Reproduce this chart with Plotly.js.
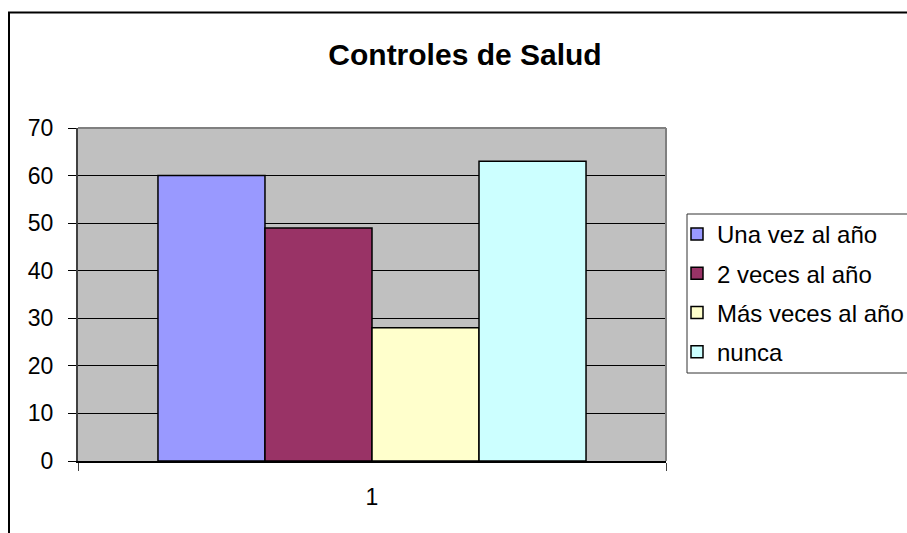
<!DOCTYPE html>
<html>
<head>
<meta charset="utf-8">
<script src="https://cdn.plot.ly/plotly-3.0.1.min.js"></script>
<style>html,body{margin:0;padding:0;background:#fff;}#chart{width:907px;height:533px;}</style>
</head>
<body>
<div id="chart"></div>
<script>
// Data
const categories = ['1'];
const seriesNames = ['Una vez al año', '2 veces al año', 'Más veces al año', 'nunca'];
const seriesValues = [60, 49, 28, 63];
const seriesColors = ['#9999FF', '#993366', '#FFFFCC', '#CCFFFF'];
const yTickValues = [0, 10, 20, 30, 40, 50, 60, 70];
const chartTitle = 'Controles de Salud';

const FONT = 'Liberation Sans, Arial, Helvetica, sans-serif';

const traces = seriesNames.map((name, i) => ({
  type: 'bar',
  name: name,
  x: categories,
  y: [seriesValues[i]],
  legendgroup: 'g' + i,
  marker: { color: seriesColors[i], line: { color: '#000000', width: 1.5 } }
}));

const W = 907, H = 533;
const L = 78, R = 666, T = 128, B = 461;
const px = v => (v - L) / (R - L);
const py = v => (B - v) / (B - T);

const layout = {
  width: W, height: H,
  margin: { l: L, r: W - R, t: T, b: H - B, pad: 0, autoexpand: false },
  paper_bgcolor: '#FFFFFF',
  plot_bgcolor: '#C0C0C0',
  font: { family: FONT, size: 23, color: '#000000' },
  title: {
    text: '<b>' + chartTitle + '</b>',
    font: { family: FONT, size: 30, color: '#000000' },
    xref: 'container', yref: 'container',
    x: 465 / W, xanchor: 'center',
    y: 1 - 54 / H, yanchor: 'middle'
  },
  barmode: 'group',
  bargap: 0.272,
  bargroupgap: 0,
  xaxis: {
    type: 'category',
    range: [-0.5, 0.5],
    showgrid: false,
    zeroline: false,
    showline: true, linecolor: '#000000', linewidth: 2,
    ticks: 'outside', tickson: 'boundaries', ticklen: 8, tickcolor: '#404040', tickwidth: 1,
    ticklabelstandoff: 14,
    tickfont: { family: FONT, size: 23, color: '#000000' },
    fixedrange: true
  },
  yaxis: {
    range: [0, 70],
    tickvals: yTickValues,
    ticktext: yTickValues.map(String),
    showgrid: true, gridcolor: '#000000', gridwidth: 1,
    zeroline: false,
    showline: true, linecolor: '#404040', linewidth: 2,
    ticks: 'outside', ticklen: 8, tickcolor: '#000000', tickwidth: 1,
    ticklabelstandoff: 10,
    tickfont: { family: FONT, size: 23, color: '#000000' },
    fixedrange: true
  },
  showlegend: true,
  legend: {
    x: px(677), xanchor: 'left',
    y: py(212), yanchor: 'top',
    bgcolor: 'rgba(0,0,0,0)',
    borderwidth: 0,
    traceorder: 'grouped',
    tracegroupgap: 5,
    font: { family: FONT, size: 24, color: '#000000' }
  },
  shapes: [
    // outer chart border
    { type: 'rect', xref: 'paper', yref: 'paper', layer: 'below',
      x0: px(9), x1: px(930), y0: py(560), y1: py(12.5),
      line: { color: '#000000', width: 2 }, fillcolor: 'rgba(0,0,0,0)' },
    // legend box
    { type: 'rect', xref: 'paper', yref: 'paper', layer: 'below',
      x0: px(687), x1: px(930), y0: py(373), y1: py(214),
      line: { color: '#333333', width: 1 }, fillcolor: '#FFFFFF' },
    // plot area top border
    { type: 'line', xref: 'paper', yref: 'paper', layer: 'above',
      x0: 0, x1: 1, y0: 1, y1: 1, line: { color: '#808080', width: 2 } },
    // plot area right border
    { type: 'line', xref: 'paper', yref: 'paper', layer: 'above',
      x0: 1, x1: 1, y0: 0, y1: 1, line: { color: '#808080', width: 2 } }
  ]
};

Plotly.newPlot('chart', traces, layout, { staticPlot: true, displayModeBar: false });
</script>
</body>
</html>
